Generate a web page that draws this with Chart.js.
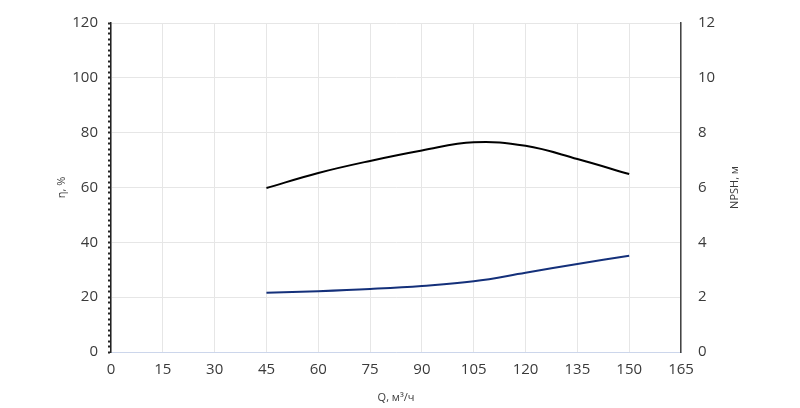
<!DOCTYPE html>
<html>
<head>
<meta charset="utf-8">
<script src="https://cdn.jsdelivr.net/npm/chart.js@4/dist/chart.umd.min.js"></script>
<style>
  html, body { margin: 0; padding: 0; background: #fff; }
  #wrap { width: 800px; height: 408px; position: relative; }
</style>
</head>
<body>
<div id="wrap"><canvas id="pump-chart"></canvas></div>
<script>
// подача, м3/ч
const flowQ = [45, 60, 75, 90, 105, 120, 135, 150];
// КПД, %
const efficiency = [59.8, 65.3, 69.7, 73.5, 76.5, 75.2, 70.4, 64.9];
// NPSH, м
const npsh = [2.16, 2.22, 2.30, 2.41, 2.58, 2.89, 3.21, 3.51];

const xTicks = { min: 0, max: 165, step: 15 };
const etaTicks = { min: 0, max: 120, step: 20, minor: 2 };
const npshTicks = { min: 0, max: 12, step: 2 };

const textColor = "#3a3a3a";
const gridColor = "#e6e6e6";
const font = "'Open Sans', sans-serif";

const toPoints = (ys) => flowQ.map((q, i) => ({ x: q, y: ys[i] }));

// правую подпись оси рисуем сами: Chart.js поворачивает её в другую сторону
const rightTitlePlugin = {
  id: "rightTitle",
  afterDraw(chart) {
    const { ctx, chartArea } = chart;
    ctx.save();
    ctx.translate(735, (chartArea.top + chartArea.bottom) / 2);
    ctx.rotate(-Math.PI / 2);
    ctx.fillStyle = textColor;
    ctx.font = `11px ${font}`;
    ctx.textAlign = "center";
    ctx.textBaseline = "middle";
    ctx.fillText("NPSH, м", 0, 0);
    ctx.restore();
  },
};

new Chart(document.getElementById("pump-chart"), {
  type: "line",
  data: {
    datasets: [
      {
        label: "η",
        data: toPoints(efficiency),
        yAxisID: "yEta",
        borderColor: "#000000",
        borderWidth: 2,
        pointRadius: 0,
        tension: 0.4,
      },
      {
        label: "NPSH",
        data: toPoints(npsh),
        yAxisID: "yNpsh",
        borderColor: "#14307a",
        borderWidth: 2,
        pointRadius: 0,
        tension: 0.4,
      },
    ],
  },
  options: {
    responsive: true,
    maintainAspectRatio: false,
    animation: false,
    layout: { padding: { top: 23, left: 51, right: 54, bottom: 0 } },
    plugins: { legend: { display: false }, tooltip: { enabled: false } },
    scales: {
      x: {
        type: "linear",
        min: xTicks.min,
        max: xTicks.max,
        afterFit: (s) => { s.height = 56; },
        ticks: { stepSize: xTicks.step, color: textColor, font: { family: font, size: 15 }, padding: 9 },
        grid: { color: gridColor, drawTicks: false },
        border: { color: "#ccd6eb", width: 1 },
        title: { display: true, text: "Q, м³/ч", color: textColor, font: { family: font, size: 11 } },
      },
      yEta: {
        position: "left",
        min: etaTicks.min,
        max: etaTicks.max,
        afterFit: (s) => { s.width = 60; s.paddingTop = 0; },
        ticks: {
          stepSize: etaTicks.minor,
          autoSkip: false,
          color: textColor,
          font: { family: font, size: 15 },
          padding: 10,
          callback: (v) => (v % etaTicks.step === 0 ? v : ""),
        },
        grid: {
          color: (ctx) => (ctx.tick && ctx.tick.value % etaTicks.step === 0 ? gridColor : "rgba(0,0,0,0)"),
          tickColor: "#222",
          tickLength: 3,
          tickWidth: 2,
        },
        border: { color: "#222", width: 1.5 },
        title: { display: true, text: "η, %", color: textColor, font: { family: font, size: 11 } },
      },
      yNpsh: {
        position: "right",
        min: npshTicks.min,
        max: npshTicks.max,
        afterFit: (s) => { s.width = 65; s.paddingTop = 0; },
        ticks: { stepSize: npshTicks.step, color: textColor, font: { family: font, size: 15 }, padding: 17 },
        grid: { drawOnChartArea: false, drawTicks: false },
        border: { color: "#444", width: 1.5 },
        title: { display: false },
      },
    },
  },
  plugins: [rightTitlePlugin],
});
</script>
</body>
</html>
